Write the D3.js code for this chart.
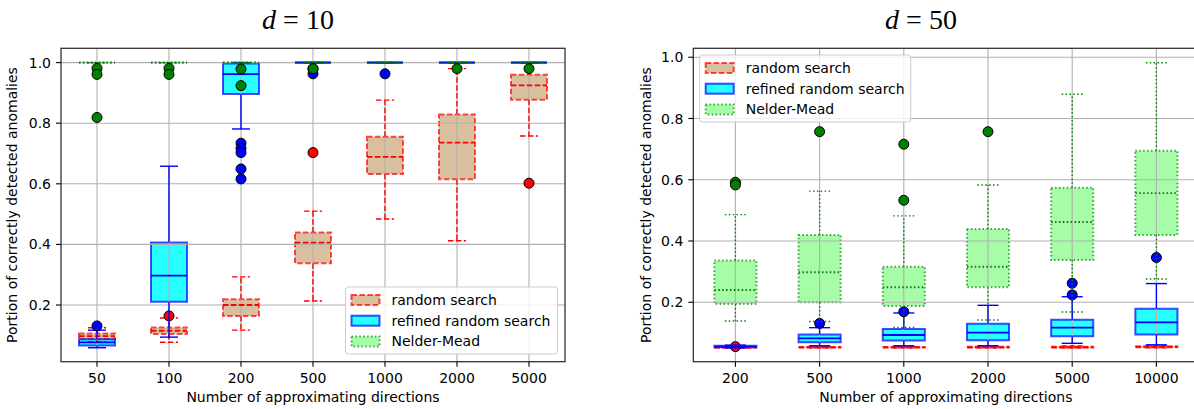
<!DOCTYPE html>
<html>
<head>
<meta charset="utf-8">
<script src="https://cdn.jsdelivr.net/npm/d3@7"></script>
<style>
  body { margin: 0; background: #fff; }
  text { font-family: "DejaVu Sans", sans-serif; fill: #000; }
</style>
</head>
<body>
<svg id="chart" width="1194" height="409"></svg>
<script>
// ---- data: [whisker low, q1, median, q3, whisker high] ----
const d10Categories = ["50", "100", "200", "500", "1000", "2000", "5000"];
const d10Random = [
  [0.078, 0.087, 0.097, 0.106, 0.125],
  [0.077, 0.104, 0.115, 0.126, 0.157],
  [0.117, 0.164, 0.200, 0.219, 0.293],
  [0.213, 0.338, 0.406, 0.439, 0.510],
  [0.484, 0.632, 0.689, 0.755, 0.876],
  [0.412, 0.615, 0.736, 0.829, 0.980],
  [0.758, 0.877, 0.925, 0.960, 1.000]
];
const d10RandomOut = [[], [0.164], [], [0.703], [], [], [0.602]];
const d10Refined = [
  [0.059, 0.066, 0.077, 0.087, 0.117],
  [0.094, 0.211, 0.297, 0.406, 0.658],
  [0.781, 0.896, 0.962, 0.997, 1.000],
  [1, 1, 1, 1, 1],
  [1, 1, 1, 1, 1],
  [1, 1, 1, 1, 1],
  [1, 1, 1, 1, 1]
];
const d10RefinedOut = [[0.131], [], [0.734, 0.717, 0.703, 0.649, 0.616], [0.963, 0.98], [0.963], [], []];
const d10Nelder = [
  [1, 1, 1, 1, 1], [1, 1, 1, 1, 1], [1, 1, 1, 1, 1], [1, 1, 1, 1, 1],
  [1, 1, 1, 1, 1], [1, 1, 1, 1, 1], [1, 1, 1, 1, 1]
];
const d10NelderOut = [[0.981, 0.961, 0.819], [0.981, 0.961], [0.979, 0.924], [0.98], [], [0.98], [0.98]];

const d50Categories = ["200", "500", "1000", "2000", "5000", "10000"];
const d50Random = [
  [0.052, 0.052, 0.052, 0.052, 0.052],
  [0.051, 0.052, 0.053, 0.054, 0.056],
  [0.051, 0.052, 0.053, 0.054, 0.056],
  [0.051, 0.052, 0.053, 0.055, 0.057],
  [0.051, 0.052, 0.053, 0.055, 0.057],
  [0.051, 0.053, 0.054, 0.056, 0.058]
];
const d50RandomOut = [[0.055], [], [], [], [], []];
const d50Refined = [
  [0.051, 0.053, 0.055, 0.058, 0.060],
  [0.058, 0.069, 0.082, 0.095, 0.117],
  [0.058, 0.075, 0.093, 0.113, 0.165],
  [0.058, 0.076, 0.101, 0.130, 0.190],
  [0.066, 0.089, 0.117, 0.143, 0.218],
  [0.061, 0.095, 0.134, 0.179, 0.261]
];
const d50RefinedOut = [[], [0.131], [0.169], [], [0.224, 0.262], [0.346]];
const d50Nelder = [
  [0.139, 0.194, 0.240, 0.336, 0.486],
  [0.137, 0.200, 0.298, 0.420, 0.563],
  [0.118, 0.188, 0.249, 0.316, 0.482],
  [0.142, 0.249, 0.316, 0.439, 0.583],
  [0.168, 0.338, 0.462, 0.574, 0.879],
  [0.276, 0.420, 0.556, 0.695, 0.982]
];
const d50NelderOut = [[0.592, 0.583], [0.757], [0.716, 0.533], [0.757], [], []];

const seriesNames = ["random search", "refined random search", "Nelder-Mead"];
const yTicks = [0.2, 0.4, 0.6, 0.8, 1.0];

// ---- styles ----
const styles = [
  { fill: "#d2b48c", line: "#ff0000", dash: "5.5,2.4" },
  { fill: "#00ffff", line: "#0000ff", dash: null },
  { fill: "#98fb98", line: "#008000", dash: "1.5,2.4" }
];

const svg = d3.select("#chart");

function drawPanel(p) {
  const x = d3.scalePoint().domain(p.categories).range([p.left, p.right]).padding(0.5);
  const y = d3.scaleLinear().domain(p.yDomain).range([p.bottom, p.top]);
  const bw = x.step() * 0.5, cw = bw * 0.5;
  const g = svg.append("g");

  // boxes (patches, lowest layer)
  p.series.forEach((s, i) => {
    const st = styles[i];
    g.append("g").selectAll("path").data(s.stats).join("path")
      .attr("d", (d, j) => {
        const cx = x(p.categories[j]);
        return `M${cx - bw / 2},${y(d[3])}H${cx + bw / 2}V${y(d[1])}H${cx - bw / 2}Z`;
      })
      .attr("fill", st.fill).attr("fill-opacity", 0.85)
      .attr("stroke", st.line).attr("stroke-opacity", 0.7)
      .attr("stroke-width", 2).attr("stroke-dasharray", st.dash);
  });

  // grid sits above patches, below lines
  const grid = g.append("g").attr("stroke", "#b0b0b0").attr("stroke-width", 1.1);
  grid.selectAll(".gx").data(p.categories).join("line")
    .attr("x1", d => x(d)).attr("x2", d => x(d)).attr("y1", p.top).attr("y2", p.bottom);
  grid.selectAll(".gy").data(yTicks).join("line")
    .attr("x1", p.left).attr("x2", p.right).attr("y1", d => y(d)).attr("y2", d => y(d));

  // whiskers, caps, medians, fliers
  p.series.forEach((s, i) => {
    const st = styles[i];
    const lg = g.append("g").attr("stroke", st.line).attr("stroke-dasharray", st.dash).attr("fill", "none");
    s.stats.forEach((d, j) => {
      const cx = x(p.categories[j]);
      lg.append("line").attr("x1", cx).attr("x2", cx).attr("y1", y(d[1])).attr("y2", y(d[0])).attr("stroke-width", 1.4);
      lg.append("line").attr("x1", cx).attr("x2", cx).attr("y1", y(d[3])).attr("y2", y(d[4])).attr("stroke-width", 1.4);
      [d[0], d[4]].forEach(v => {
        lg.append("line").attr("x1", cx - cw / 2).attr("x2", cx + cw / 2)
          .attr("y1", y(v)).attr("y2", y(v)).attr("stroke-width", 1.4);
      });
      lg.append("line").attr("x1", cx - bw / 2).attr("x2", cx + bw / 2)
        .attr("y1", y(d[2])).attr("y2", y(d[2])).attr("stroke-width", 1.8);
    });
    const pts = [];
    s.out.forEach((arr, j) => arr.forEach(v => pts.push([p.categories[j], v])));
    g.append("g").selectAll("circle").data(pts).join("circle")
      .attr("cx", d => x(d[0])).attr("cy", d => y(d[1])).attr("r", 5)
      .attr("fill", st.line).attr("stroke", "#000").attr("stroke-width", 1);
  });

  // spines
  g.append("rect").attr("x", p.left).attr("y", p.top)
    .attr("width", p.right - p.left).attr("height", p.bottom - p.top)
    .attr("fill", "none").attr("stroke", "#333").attr("stroke-width", 1.3);

  // ticks
  const ax = g.append("g");
  ax.selectAll(".tx").data(p.categories).join("line")
    .attr("x1", d => x(d)).attr("x2", d => x(d)).attr("y1", p.bottom).attr("y2", p.bottom + 5)
    .attr("stroke", "#000").attr("stroke-width", 1.1);
  ax.selectAll(".lx").data(p.categories).join("text")
    .attr("x", d => x(d)).attr("y", p.bottom + 21).attr("text-anchor", "middle")
    .attr("font-size", 14).text(d => d);
  ax.selectAll(".ty").data(yTicks).join("line")
    .attr("x1", p.left - 5).attr("x2", p.left).attr("y1", d => y(d)).attr("y2", d => y(d))
    .attr("stroke", "#000").attr("stroke-width", 1.1);
  ax.selectAll(".ly").data(yTicks).join("text")
    .attr("x", p.left - 10).attr("y", d => y(d)).attr("dy", "0.36em").attr("text-anchor", "end")
    .attr("font-size", 14).text(d => d3.format(".1f")(d));

  // axis labels
  g.append("text").attr("x", (p.left + p.right) / 2).attr("y", 402).attr("text-anchor", "middle")
    .attr("font-size", 14).text("Number of approximating directions");
  g.append("text").attr("transform", `translate(${p.ylabelX},${(p.top + p.bottom) / 2}) rotate(-90)`)
    .attr("text-anchor", "middle").attr("font-size", 14).text("Portion of correctly detected anomalies");

  // title
  const t = g.append("text").attr("x", p.titleX).attr("y", 29).attr("text-anchor", "middle")
    .attr("font-size", 28).style("font-family", "'Liberation Serif', serif");
  t.append("tspan").attr("font-style", "italic").text("d");
  t.append("tspan").text(" = " + p.titleNum);

  // legend
  const lgd = g.append("g").attr("transform", `translate(${p.legend[0]},${p.legend[1]})`);
  lgd.append("rect").attr("width", p.legend[2]).attr("height", 67).attr("rx", 3)
    .attr("fill", "#fff").attr("fill-opacity", 0.8).attr("stroke", "#cccccc").attr("stroke-width", 1);
  seriesNames.forEach((name, i) => {
    const st = styles[i];
    const cy = 13 + i * 20.7;
    lgd.append("rect").attr("x", 6).attr("y", cy - 5).attr("width", 28).attr("height", 10)
      .attr("fill", st.fill).attr("fill-opacity", 0.85)
      .attr("stroke", st.line).attr("stroke-opacity", 0.7).attr("stroke-width", 2)
      .attr("stroke-dasharray", st.dash);
    lgd.append("text").attr("x", 46).attr("y", cy).attr("dy", "0.36em").attr("font-size", 14).text(name);
  });
}

drawPanel({
  categories: d10Categories,
  series: [
    { stats: d10Random, out: d10RandomOut },
    { stats: d10Refined, out: d10RefinedOut },
    { stats: d10Nelder, out: d10NelderOut }
  ],
  left: 61, right: 565, top: 48.3, bottom: 361.7,
  yDomain: [0.0129, 1.0472],
  titleX: 298, titleNum: "10", ylabelX: 17,
  legend: [345.5, 287, 212]
});

drawPanel({
  categories: d50Categories,
  series: [
    { stats: d50Random, out: d50RandomOut },
    { stats: d50Refined, out: d50RefinedOut },
    { stats: d50Nelder, out: d50NelderOut }
  ],
  left: 693.3, right: 1198.5, top: 48.3, bottom: 361.7,
  yDomain: [0.0059, 1.0292],
  titleX: 921, titleNum: "50", ylabelX: 651,
  legend: [699.7, 55, 211]
});
</script>
</body>
</html>
